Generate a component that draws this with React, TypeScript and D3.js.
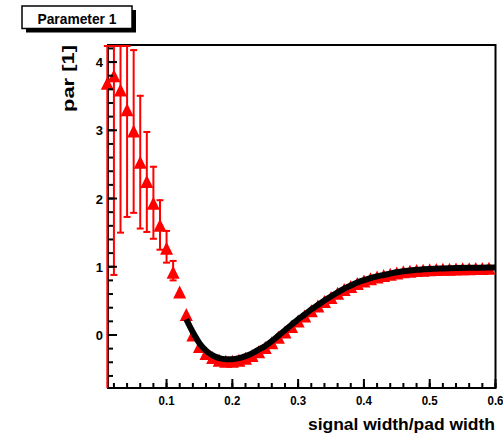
import React from "react";
import * as d3 from "d3";

const xValues = [0.01,0.02,0.03,0.04,0.05,0.06,0.07,0.08,0.09,0.10,0.11,0.12,0.13,0.14,0.15,0.16,0.17,0.18,0.19,0.20,0.21,0.22,0.23,0.24,0.25,0.26,0.27,0.28,0.29,0.30,0.31,0.32,0.33,0.34,0.35,0.36,0.37,0.38,0.39,0.40,0.41,0.42,0.43,0.44,0.45,0.46,0.47,0.48,0.49,0.50,0.51,0.52,0.53,0.54,0.55,0.56,0.57,0.58,0.59];
const yValues = [3.69,3.80,3.59,3.30,2.99,2.53,2.25,1.93,1.61,1.27,0.92,0.63,0.30,0.00,-0.17,-0.27,-0.33,-0.37,-0.385,-0.385,-0.37,-0.34,-0.30,-0.245,-0.185,-0.115,-0.035,0.045,0.125,0.205,0.28,0.355,0.425,0.49,0.55,0.61,0.665,0.71,0.755,0.79,0.825,0.85,0.87,0.89,0.91,0.925,0.935,0.945,0.95,0.955,0.96,0.962,0.965,0.968,0.97,0.972,0.974,0.976,0.978];
// error bars (upper, lower) for the first points
const errX = [0.01,0.02,0.03,0.04,0.05,0.06,0.07,0.08,0.09,0.10,0.11];
const errHigh = [6.0,6.0,6.0,6.0,4.19,3.52,2.99,2.48,1.99,1.54,1.10];
const errLow = [-2.0,0.88,1.50,1.73,1.79,1.56,1.51,1.41,1.25,1.06,0.80];
// fit curve
const fitX = [0.13,0.14,0.15,0.16,0.17,0.18,0.19,0.20,0.21,0.22,0.23,0.24,0.25,0.26,0.27,0.28,0.29,0.30,0.31,0.32,0.33,0.34,0.35,0.36,0.37,0.38,0.39,0.40,0.41,0.42,0.43,0.44,0.45,0.46,0.47,0.48,0.49,0.50,0.52,0.54,0.56,0.58,0.60];
const fitY = [0.23,0.04,-0.12,-0.23,-0.30,-0.34,-0.355,-0.355,-0.34,-0.31,-0.27,-0.215,-0.16,-0.09,-0.01,0.07,0.15,0.23,0.30,0.375,0.44,0.505,0.565,0.625,0.68,0.725,0.77,0.805,0.835,0.86,0.88,0.9,0.92,0.935,0.945,0.955,0.962,0.968,0.975,0.98,0.984,0.987,0.99];

const xTicks = [0.1,0.2,0.3,0.4,0.5,0.6];
const yTicks = [0,1,2,3,4];

const L = 108, R = 495.5, T = 45, B = 388;

export default function App() {
  const x = d3.scaleLinear().domain([0.011, 0.6]).range([L, R]);
  const y = d3.scaleLinear().domain([-0.777, 4.25]).range([B, T]);
  const clampY = (v: number) => Math.max(T, Math.min(B, y(v)));

  const xMinor = d3.range(0.02, 0.6001, 0.02);
  const yMinor = d3.range(-0.6, 4.2001, 0.2);

  const line = d3.line<number>().x((_, i) => x(fitX[i])).y((d) => y(d)).curve(d3.curveMonotoneX);
  const r = 6.5;
  const tri = (cx: number, cy: number) => `M${cx - r},${cy + r}L${cx + r},${cy + r}L${cx},${cy - r}Z`;
  const font = "'Liberation Sans', Arial, Helvetica, sans-serif";

  return (
    <svg width={503} height={440} style={{ position: "absolute", left: 0, top: 0, background: "#fff" }}>
      {/* title box */}
      <rect x={26} y={10} width={110} height={22.5} fill="#000" />
      <rect x={22} y={6} width={110} height={22.5} fill="#fff" stroke="#000" strokeWidth={1.5} />
      <text x={77} y={23.5} textAnchor="middle" fontFamily={font} fontWeight="bold" fontSize={15} textLength={79} lengthAdjust="spacingAndGlyphs">Parameter 1</text>

      {/* frame */}
      <rect x={L} y={T} width={R - L} height={B - T} fill="none" stroke="#000" strokeWidth={2} />

      {/* error bars */}
      <g stroke="#ff0000" strokeWidth={2}>
        {errX.map((ex, i) => (
          <g key={i}>
            <line x1={x(ex)} x2={x(ex)} y1={clampY(errHigh[i])} y2={clampY(errLow[i])} />
            <line x1={x(ex) - 3.5} x2={x(ex) + 3.5} y1={clampY(errHigh[i]) + 1} y2={clampY(errHigh[i]) + 1} />
            {errLow[i] > -0.7 && <line x1={x(ex) - 3.5} x2={x(ex) + 3.5} y1={clampY(errLow[i])} y2={clampY(errLow[i])} />}
          </g>
        ))}
      </g>

      {/* markers */}
      <g fill="#ff0000">
        {yValues.map((v, i) => (
          <path key={i} d={tri(x(xValues[i]), y(v))} />
        ))}
      </g>

      {/* fit curve */}
      <path d={line(fitY) || ""} fill="none" stroke="#000" strokeWidth={6} />

      {/* axis ticks */}
      <g stroke="#000" strokeWidth={2}>
        {xMinor.map((t, i) => (
          <line key={"xm" + i} x1={x(t)} x2={x(t)} y1={B} y2={B - 5} />
        ))}
        {xTicks.map((t, i) => (
          <line key={"xM" + i} x1={x(t)} x2={x(t)} y1={B} y2={B - 9} />
        ))}
        {yMinor.map((t, i) => (
          <line key={"ym" + i} x1={L} x2={L + 5} y1={y(t)} y2={y(t)} />
        ))}
        {yTicks.map((t, i) => (
          <line key={"yM" + i} x1={L} x2={L + 9} y1={y(t)} y2={y(t)} />
        ))}
      </g>

      {/* tick labels */}
      <g fontFamily={font} fontWeight="bold" fontSize={13} fill="#000">
        {xTicks.map((t, i) => (
          <text key={i} x={x(t)} y={405} textAnchor="middle" textLength={16} lengthAdjust="spacingAndGlyphs">{d3.format(".1f")(t)}</text>
        ))}
        {yTicks.map((t, i) => (
          <text key={i} x={103} y={y(t) + 5} textAnchor="end">{t}</text>
        ))}
      </g>

      {/* axis titles */}
      <text x={495} y={430} textAnchor="end" fontFamily={font} fontWeight="bold" fontSize={17} textLength={187} lengthAdjust="spacingAndGlyphs">signal width/pad width</text>
      <text transform="translate(73.5,45) rotate(-90)" textAnchor="end" fontFamily={font} fontWeight="bold" fontSize={17} textLength={67} lengthAdjust="spacingAndGlyphs">par [1]</text>
    </svg>
  );
}
